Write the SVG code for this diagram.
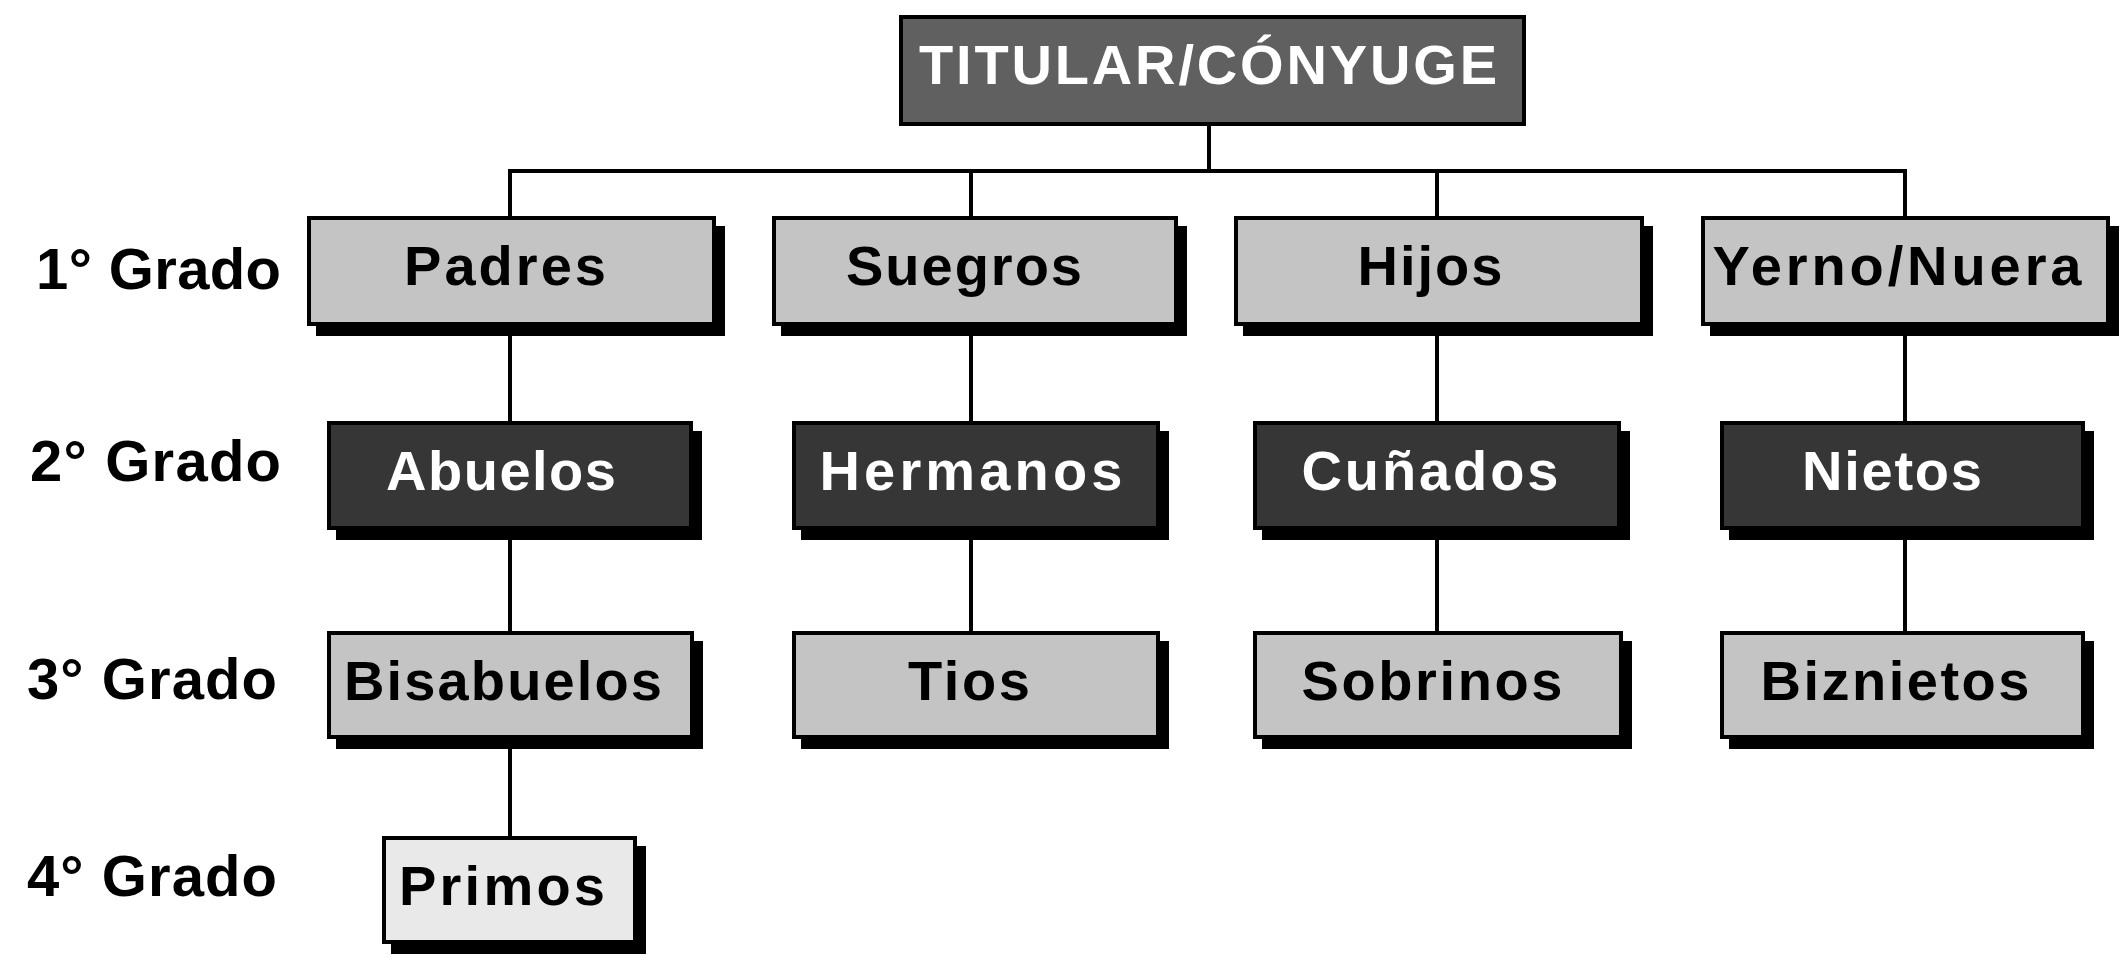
<svg xmlns="http://www.w3.org/2000/svg" width="2126" height="975" viewBox="0 0 2126 975">
<style>
.sh{fill:#000}
.bx{stroke:#000;stroke-width:4}
.lt{fill:#c4c4c4}
.dk{fill:#363636}
.tt{fill:#606060}
.pl{fill:#e9e9e9}
.t{font-family:"Liberation Sans",Arial,sans-serif;font-weight:bold;font-size:56px;text-anchor:middle}
.tb{fill:#000}
.tw{fill:#fff}
.lbl{font-family:"Liberation Sans",Arial,sans-serif;font-weight:bold;font-size:58px;fill:#000}
.c{stroke:#000;stroke-width:4;fill:none}
</style>
<rect width="2126" height="975" fill="#fff"/>
<g id="connectors">
<path class="c" d="M1209 126V171M508 171H1907M510 171V216M971 171V216M1437 171V216M1905 171V216"/>
<path class="c" d="M510 326V421M510 530V631M510 739V836"/>
<path class="c" d="M971 326V421M971 530V631"/>
<path class="c" d="M1437 326V421M1437 530V631"/>
<path class="c" d="M1905 326V421M1905 530V631"/>
</g>
<g id="labels">
<text class="lbl" x="36" y="289" textLength="245" lengthAdjust="spacing">1° Grado</text>
<text class="lbl" x="30" y="481" textLength="251" lengthAdjust="spacing">2° Grado</text>
<text class="lbl" x="27" y="699" textLength="250" lengthAdjust="spacing">3° Grado</text>
<text class="lbl" x="27" y="896" textLength="250" lengthAdjust="spacing">4° Grado</text>
</g>
<g id="titular">
<rect class="bx tt" x="901" y="17" width="623" height="107"/>
<text class="t tw" x="1208" y="84" textLength="578" lengthAdjust="spacing">TITULAR/CÓNYUGE</text>
</g>
<g id="padres">
<rect class="sh" x="316" y="226" width="409" height="110"/>
<rect class="bx lt" x="309" y="218" width="405" height="106"/>
<text class="t tb" x="505" y="285" textLength="202" lengthAdjust="spacing">Padres</text>
</g>
<g id="suegros">
<rect class="sh" x="781" y="226" width="406" height="110"/>
<rect class="bx lt" x="774" y="218" width="402" height="106"/>
<text class="t tb" x="964" y="285" textLength="236" lengthAdjust="spacing">Suegros</text>
</g>
<g id="hijos">
<rect class="sh" x="1243" y="226" width="410" height="110"/>
<rect class="bx lt" x="1236" y="218" width="406" height="106"/>
<text class="t tb" x="1430" y="285" textLength="145" lengthAdjust="spacing">Hijos</text>
</g>
<g id="yerno-nuera">
<rect class="sh" x="1710" y="226" width="409" height="110"/>
<rect class="bx lt" x="1703" y="218" width="405" height="106"/>
<text class="t tb" x="1897" y="285" textLength="369" lengthAdjust="spacing">Yerno/Nuera</text>
</g>
<g id="abuelos">
<rect class="sh" x="336" y="431" width="366" height="109"/>
<rect class="bx dk" x="329" y="423" width="362" height="105"/>
<text class="t tw" x="501" y="490" textLength="230" lengthAdjust="spacing">Abuelos</text>
</g>
<g id="hermanos">
<rect class="sh" x="801" y="431" width="368" height="109"/>
<rect class="bx dk" x="794" y="423" width="364" height="105"/>
<text class="t tw" x="971" y="490" textLength="303" lengthAdjust="spacing">Hermanos</text>
</g>
<g id="cunados">
<rect class="sh" x="1262" y="431" width="368" height="109"/>
<rect class="bx dk" x="1255" y="423" width="364" height="105"/>
<text class="t tw" x="1430" y="490" textLength="257" lengthAdjust="spacing">Cuñados</text>
</g>
<g id="nietos">
<rect class="sh" x="1729" y="431" width="365" height="109"/>
<rect class="bx dk" x="1722" y="423" width="361" height="105"/>
<text class="t tw" x="1892" y="490" textLength="180" lengthAdjust="spacing">Nietos</text>
</g>
<g id="bisabuelos">
<rect class="sh" x="336" y="641" width="367" height="108"/>
<rect class="bx lt" x="329" y="633" width="363" height="104"/>
<text class="t tb" x="503" y="700" textLength="318" lengthAdjust="spacing">Bisabuelos</text>
</g>
<g id="tios">
<rect class="sh" x="801" y="641" width="368" height="108"/>
<rect class="bx lt" x="794" y="633" width="364" height="104"/>
<text class="t tb" x="969" y="700" textLength="122" lengthAdjust="spacing">Tios</text>
</g>
<g id="sobrinos">
<rect class="sh" x="1262" y="641" width="370" height="108"/>
<rect class="bx lt" x="1255" y="633" width="366" height="104"/>
<text class="t tb" x="1432" y="700" textLength="261" lengthAdjust="spacing">Sobrinos</text>
</g>
<g id="biznietos">
<rect class="sh" x="1729" y="641" width="365" height="108"/>
<rect class="bx lt" x="1722" y="633" width="361" height="104"/>
<text class="t tb" x="1895" y="700" textLength="269" lengthAdjust="spacing">Biznietos</text>
</g>
<g id="primos">
<rect class="sh" x="391" y="846" width="255" height="108"/>
<rect class="bx pl" x="384" y="838" width="251" height="104"/>
<text class="t tb" x="502" y="905" textLength="206" lengthAdjust="spacing">Primos</text>
</g>
</svg>
